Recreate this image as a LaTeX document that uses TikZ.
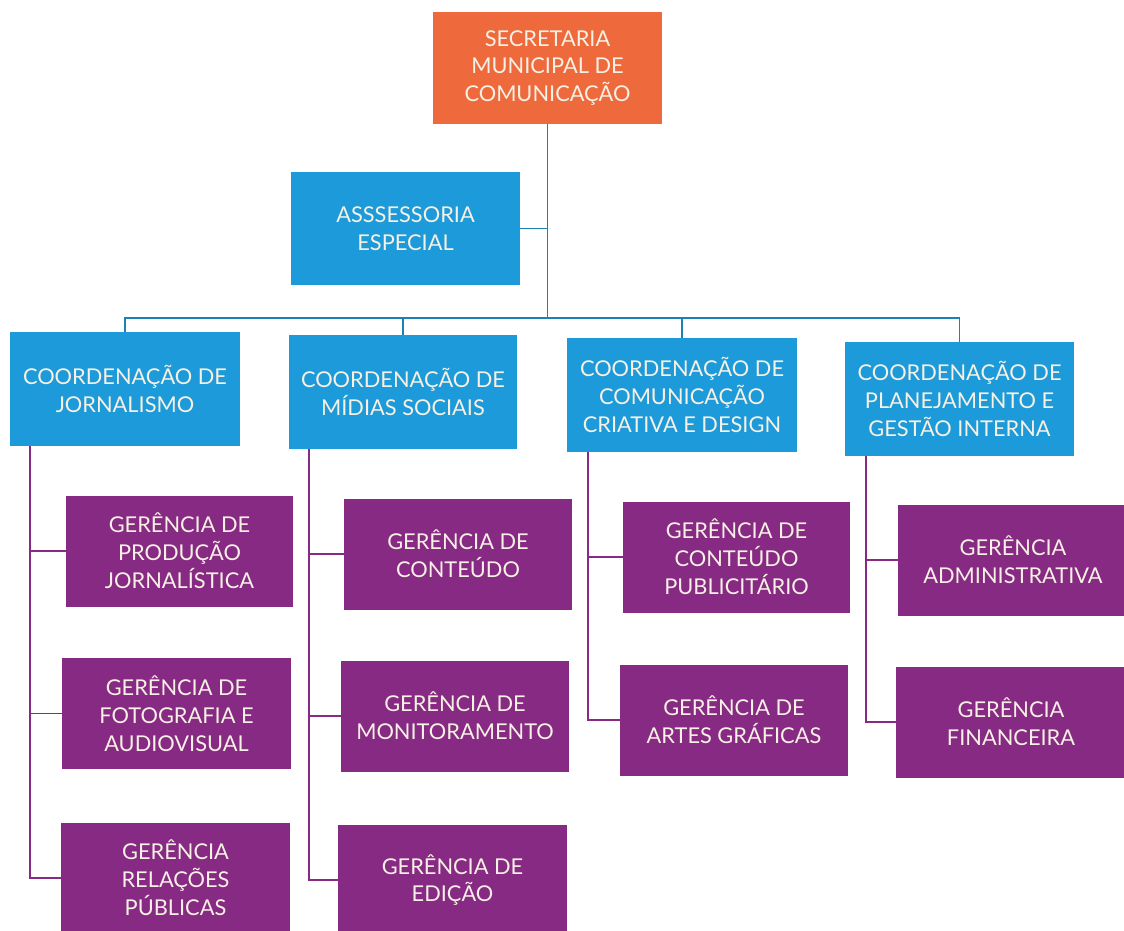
\documentclass[tikz,border=0pt]{standalone}
\usepackage{fontspec}
\setmainfont{Lato}
\usepackage{xcolor}
\usepackage{tikz}
\usetikzlibrary{calc}
\definecolor{secorange}{HTML}{EE6A3C}
\definecolor{coordblue}{HTML}{1D9AD9}
\definecolor{gerpurple}{HTML}{872A83}
\definecolor{boxtext}{HTML}{F7F0E4}
\tikzset{
	box/.style={
			draw=none, align=center, text=boxtext, inner sep=0pt,
			font=\fontsize{12.4}{15.9}\selectfont,
			minimum width=#1*0.02cm
		},
	box/.default=229,
	sec/.style={box, fill=secorange, minimum height=2.24cm},
	coord/.style={box, fill=coordblue, minimum height=2.28cm},
	ger/.style={box, fill=gerpurple, minimum height=2.22cm},
	blueline/.style={color=coordblue!85!black, line width=1.1pt},
	purpleline/.style={color=gerpurple, line width=1pt}
}

\begin{document}
\begin{tikzpicture}[x=0.02cm,y=-0.02cm]
		\useasboundingbox (0,0) rectangle (1124,930);
		\clip (0,0) rectangle (1124,930);
		% topo
		\node [sec] (sec) at (547.5,68) {SECRETARIA\\MUNICIPAL DE\\COMUNICAÇÃO};
		\node [coord] (ass) at (405.5,228.5) {ASSSESSORIA\\ESPECIAL};
		% coordenacoes
		\node [coord,box=230] (cj) at (125,389) {COORDENAÇÃO DE\\JORNALISMO};
		\node [coord,box=228] (cm) at (403,392) {COORDENAÇÃO DE\\MÍDIAS SOCIAIS};
		\node [coord,box=230] (cc) at (682,395) {COORDENAÇÃO DE\\COMUNICAÇÃO\\CRIATIVA E DESIGN};
		\node [coord] (cp) at (959.5,399) {COORDENAÇÃO DE\\PLANEJAMENTO E\\GESTÃO INTERNA};
		% gerencias
		\node [ger,box=227] (gprod) at (179.5,551) {GERÊNCIA DE\\PRODUÇÃO\\JORNALÍSTICA};
		\node [ger,box=229] (gfoto) at (176.5,713.5) {GERÊNCIA DE\\FOTOGRAFIA E\\AUDIOVISUAL};
		\node [ger,box=229] (grel) at (175.5,878) {GERÊNCIA\\RELAÇÕES\\PÚBLICAS};
		\node [ger,box=228] (gcont) at (458,554) {GERÊNCIA DE\\CONTEÚDO};
		\node [ger,box=228] (gmon) at (455,716) {GERÊNCIA DE\\MONITORAMENTO};
		\node [ger,box=229] (gedi) at (452.5,880) {GERÊNCIA DE\\EDIÇÃO};
		\node [ger,box=227] (gpub) at (736.5,557) {GERÊNCIA DE\\CONTEÚDO\\PUBLICITÁRIO};
		\node [ger,box=228] (gart) at (734,720) {GERÊNCIA DE\\ARTES GRÁFICAS};
		\node [ger,box=230] (gadm) at (1013,560) {GERÊNCIA\\ADMINISTRATIVA};
		\node [ger,box=230] (gfin) at (1011,722) {GERÊNCIA\\FINANCEIRA};
		% ligacoes azuis
		\coordinate (bus) at (547.5,318);
		\draw [blueline] (sec.south) -- (bus);
		\draw [blueline] (ass.east) -- (ass.east -| bus);
		\draw [blueline] (cj.north) -- (cj.north |- bus) -- (cp.north |- bus) -- (cp.north);
		\draw [blueline] (cm.north) -- (cm.north |- bus);
		\draw [blueline] (cc.north) -- (cc.north |- bus);
		% ligacoes roxas
		\coordinate (tj) at ([xshift=0.4cm]cj.south west);
		\coordinate (tm) at ([xshift=0.4cm]cm.south west);
		\coordinate (tc) at ([xshift=0.42cm]cc.south west);
		\coordinate (tp) at ([xshift=0.42cm]cp.south west);
		\draw [purpleline] (tj) |- (grel.west);
		\draw [purpleline] (gprod.west) -- (gprod.west -| tj);
		\draw [purpleline] (gfoto.west) -- (gfoto.west -| tj);
		\draw [purpleline] (tm) |- (gedi.west);
		\draw [purpleline] (gcont.west) -- (gcont.west -| tm);
		\draw [purpleline] (gmon.west) -- (gmon.west -| tm);
		\draw [purpleline] (tc) |- (gart.west);
		\draw [purpleline] (gpub.west) -- (gpub.west -| tc);
		\draw [purpleline] (tp) |- (gfin.west);
		\draw [purpleline] (gadm.west) -- (gadm.west -| tp);
	\end{tikzpicture}
\end{document}
